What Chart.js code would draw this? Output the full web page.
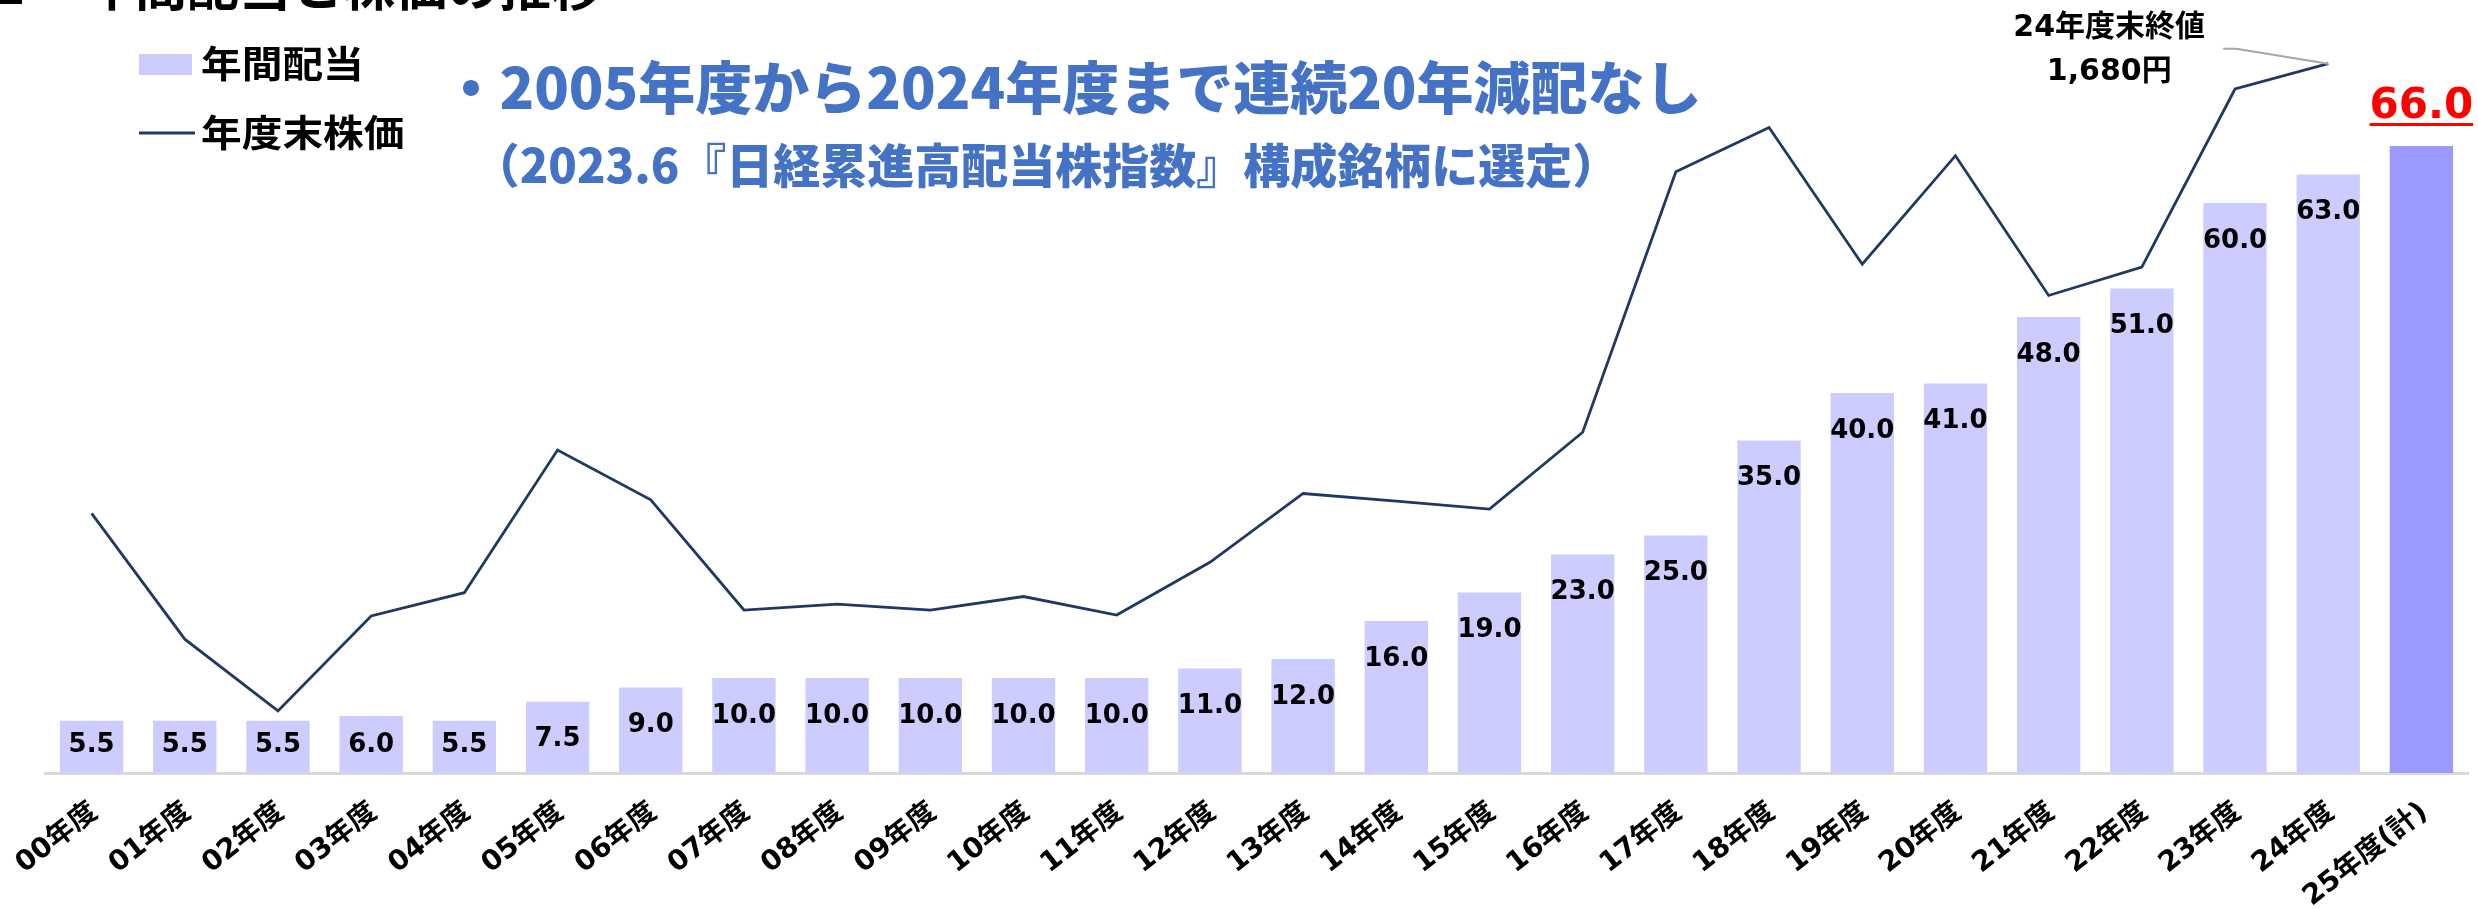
<!DOCTYPE html>
<html lang="ja">
<head>
<meta charset="utf-8">
<title>年間配当と株価の推移</title>
<script src="https://cdn.jsdelivr.net/npm/chart.js@4.4.1/dist/chart.umd.min.js"></script>
<style>
  html, body { margin: 0; padding: 0; background: #fff; }
  canvas { display: block; }
</style>
</head>
<body>
<canvas id="chart" width="2478" height="909"></canvas>
<script>
// Fiscal years (年度) on the category axis
const categories = [
  '00年度', '01年度', '02年度', '03年度', '04年度', '05年度', '06年度', '07年度',
  '08年度', '09年度', '10年度', '11年度', '12年度', '13年度', '14年度', '15年度',
  '16年度', '17年度', '18年度', '19年度', '20年度', '21年度', '22年度', '23年度',
  '24年度', '25年度(計)'
];

// Annual dividend per share (円)
const dividends = [
  5.5, 5.5, 5.5, 6.0, 5.5, 7.5, 9.0, 10.0, 10.0, 10.0, 10.0, 10.0, 11.0,
  12.0, 16.0, 19.0, 23.0, 25.0, 35.0, 40.0, 41.0, 48.0, 51.0, 60.0, 63.0, 66.0
];

// Fiscal-year-end share price (円); no close yet for the planned year
const prices = [
  615, 317, 147, 372, 427, 765, 647, 386, 400, 386, 418, 374, 499,
  662, 644, 625, 807, 1424, 1529, 1205, 1462, 1131, 1198, 1620, 1680, null
];

const chartTitle = '年間配当と株価の推移';
const legendLabels = ['年間配当', '年度末株価'];
const headline = '・2005年度から2024年度まで連続20年減配なし';
const subline = '（2023.6『日経累進高配当株指数』構成銘柄に選定）';
const noteTitle = '24年度末終値';

const JP = '"Noto Sans CJK JP", "Noto Sans", sans-serif';
const NUM = '"DejaVu Sans", Verdana, sans-serif';
const MIX = '"DejaVu Sans", "Noto Sans CJK JP", sans-serif';

const BAR = '#CCCCFF';
const BAR_PLAN = '#9999FF';
const LINE = '#1F3864';
const BLUE = '#4472C4';

// text drawn with an optional horizontal stretch
function wideText(ctx, text, x, y, sx) {
  ctx.save();
  ctx.translate(x, y);
  ctx.scale(sx, 1);
  ctx.fillText(text, 0, 0);
  ctx.restore();
}

// Value labels on the dividend bars
const barLabels = {
  id: 'barLabels',
  afterDatasetsDraw(chart) {
    const ctx = chart.ctx;
    const meta = chart.getDatasetMeta(1);
    const last = dividends.length - 1;
    meta.data.forEach((bar, i) => {
      const txt = dividends[i].toFixed(1);
      ctx.save();
      ctx.textAlign = 'center';
      ctx.textBaseline = 'alphabetic';
      if (i === last) {
        ctx.font = `bold 42px ${NUM}`;
        ctx.fillStyle = '#FF0000';
        const yb = bar.y - 28;
        ctx.fillText(txt, bar.x, yb);
        const w = ctx.measureText(txt).width;
        ctx.fillRect(bar.x - w / 2, yb + 5, w, 3);
      } else {
        ctx.font = `bold 26px ${NUM}`;
        ctx.fillStyle = '#000000';
        const cy = Math.min(bar.y + 35, bar.base - 31);
        ctx.fillText(txt, bar.x, cy + 9.5);
      }
      ctx.restore();
    });
  }
};

// Slanted category labels under the axis
const categoryLabels = {
  id: 'categoryLabels',
  afterDraw(chart) {
    const ctx = chart.ctx;
    const xs = chart.scales.x;
    const angle = 38 * Math.PI / 180;
    ctx.save();
    ctx.fillStyle = '#000000';
    ctx.font = `bold 28px ${MIX}`;
    ctx.textAlign = 'right';
    ctx.textBaseline = 'middle';
    categories.forEach((lab, i) => {
      const x = xs.getPixelForTick(i);
      ctx.save();
      ctx.translate(x + 3, xs.top + 36);
      ctx.rotate(-angle);
      ctx.fillText(lab, 0, 0);
      ctx.restore();
    });
    ctx.restore();
  }
};

// Title, legend, headline and the closing-price callout
const decorations = {
  id: 'decorations',
  afterDraw(chart) {
    const ctx = chart.ctx;
    ctx.save();

    // heading bar and title
    ctx.fillStyle = '#000000';
    ctx.fillRect(0, 0, 22, 4);
    ctx.font = `bold 52px ${JP}`;
    ctx.textAlign = 'left';
    ctx.textBaseline = 'ideographic';
    ctx.fillText(chartTitle, 83, 12);

    // legend
    ctx.fillStyle = BAR;
    ctx.fillRect(139, 54, 53, 21);
    ctx.strokeStyle = LINE;
    ctx.lineWidth = 3;
    ctx.beginPath();
    ctx.moveTo(139, 133);
    ctx.lineTo(195, 133);
    ctx.stroke();
    ctx.fillStyle = '#000000';
    ctx.font = `bold 37px ${JP}`;
    ctx.textBaseline = 'middle';
    wideText(ctx, legendLabels[0], 201, 64, 1.1);
    wideText(ctx, legendLabels[1], 201, 133, 1.1);

    // headline
    ctx.fillStyle = BLUE;
    ctx.textAlign = 'center';
    ctx.font = `900 57px ${JP}`;
    ctx.fillText(headline, 1072, 87);
    ctx.font = `900 47px ${JP}`;
    ctx.fillText(subline, 1046, 165);

    // callout for the latest closing price
    const lineMeta = chart.getDatasetMeta(0);
    let k = prices.length - 1;
    while (k > 0 && prices[k] == null) k--;
    const pt = lineMeta.data[k];
    ctx.strokeStyle = '#A6A6A6';
    ctx.lineWidth = 2;
    ctx.beginPath();
    ctx.moveTo(pt.x - 105, pt.y - 15);
    ctx.lineTo(pt.x - 92, pt.y - 15);
    ctx.lineTo(pt.x, pt.y);
    ctx.stroke();
    ctx.fillStyle = '#000000';
    ctx.font = `bold 30px ${MIX}`;
    ctx.textAlign = 'center';
    ctx.textBaseline = 'middle';
    ctx.fillText(noteTitle, pt.x - 219, pt.y - 35);
    ctx.fillText(prices[k].toLocaleString('en-US') + '円', pt.x - 219, pt.y + 9);

    ctx.restore();
  }
};

new Chart(document.getElementById('chart'), {
  data: {
    labels: categories,
    datasets: [
      {
        type: 'line',
        label: legendLabels[1],
        data: prices,
        yAxisID: 'y1',
        borderColor: LINE,
        borderWidth: 2.8,
        pointRadius: 0,
        tension: 0,
        fill: false,
        order: 0
      },
      {
        type: 'bar',
        label: legendLabels[0],
        data: dividends,
        yAxisID: 'y',
        backgroundColor: dividends.map((_, i) => i === dividends.length - 1 ? BAR_PLAN : BAR),
        borderWidth: 0,
        barPercentage: 0.68,
        categoryPercentage: 1.0,
        order: 1
      }
    ]
  },
  options: {
    responsive: false,
    animation: false,
    devicePixelRatio: 1,
    layout: { padding: { left: 45, right: 10, top: 13, bottom: 0 } },
    plugins: {
      legend: { display: false },
      title: { display: false },
      tooltip: { enabled: false }
    },
    scales: {
      x: {
        grid: { display: true, color: 'transparent', drawTicks: false },
        border: { display: true, color: '#D9D9D9', width: 3 },
        ticks: { display: false, autoSkip: false },
        afterFit(scale) { scale.height = 136; }
      },
      y: {
        display: false,
        min: 0,
        max: 80
      },
      y1: {
        display: false,
        position: 'right',
        min: 0,
        max: 1800
      }
    }
  },
  plugins: [barLabels, categoryLabels, decorations]
});
</script>
</body>
</html>
